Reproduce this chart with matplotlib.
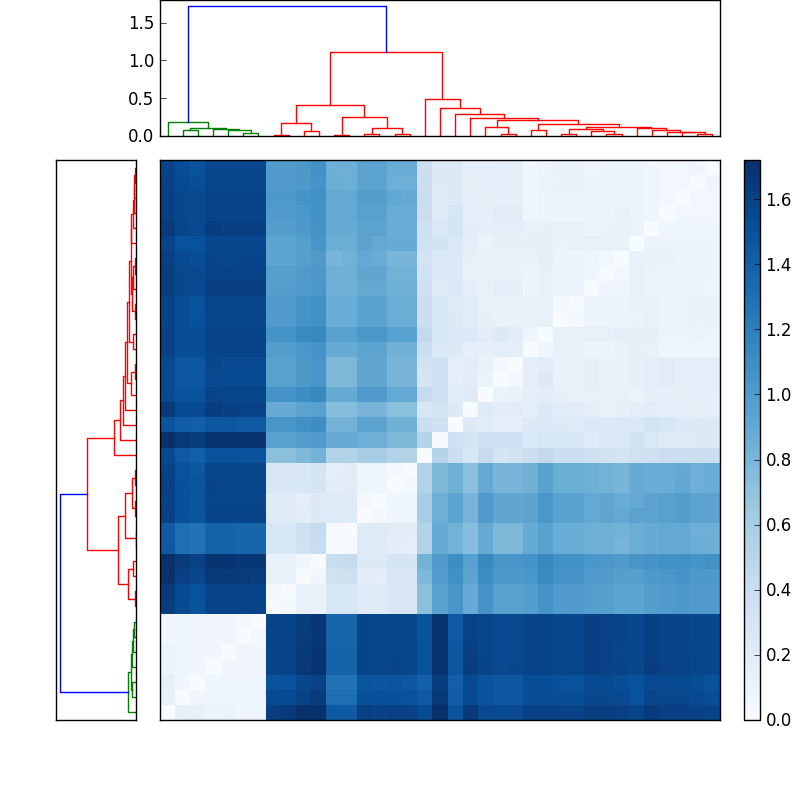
#!/usr/bin/env python3

# Distance matrix with a dendrogram on the top and on the left.

import numpy as np
import matplotlib
matplotlib.use('Agg')
import matplotlib.pyplot as plt
from matplotlib.transforms import ScaledTranslation

plt.style.use('classic')

N_LEAVES = 37

# Merges, in linkage order. Ids below 37 are leaves, 37 and up are earlier merges.
merge_left = [1, 5, 4, 3, 37, 0, 7, 9, 43, 11, 13, 15, 47, 46, 45, 35, 34, 33,
              32, 31, 29, 28, 26, 59, 60, 24, 62, 22, 21, 65, 20, 19, 18, 17,
              51, 42]
merge_right = [2, 6, 38, 39, 40, 41, 8, 10, 44, 12, 14, 16, 48, 49, 50, 36, 52,
               53, 54, 55, 30, 57, 27, 58, 56, 25, 61, 23, 64, 63, 66, 67, 68,
               69, 70, 71]
merge_height = [.08, .035, .075, .09, .105, .19, .015, .065, .17, .01, .025,
                .03, .10, .25, .41, .033, .047, .056, .078, .105, .03, .065,
                .02, .09, .123, .073, .158, .025, .118, .21, .24, .287, .365,
                .49, 1.107, 1.72]
merge_color = ['g'] * 6 + ['r'] * 29 + ['b']

# Lower triangle of the matrix, one list per row, bottom row first.
# The diagonal is zero and the upper part mirrors this.
lower_rows = [
    [],
    [.13],
    [.14, .06],
    [.09, .08, .08],
    [.11, .08, .08, .06],
    [.08, .08, .07, .06, .06],
    [.08, .08, .08, .06, .06, .04],
    [1.63, 1.54, 1.49, 1.58, 1.58, 1.58, 1.58],
    [1.65, 1.54, 1.50, 1.58, 1.58, 1.58, 1.58, .03],
    [1.71, 1.60, 1.56, 1.66, 1.65, 1.64, 1.63, .12, .12],
    [1.71, 1.64, 1.60, 1.68, 1.68, 1.67, 1.67, .13, .13, .06],
    [1.45, 1.31, 1.28, 1.38, 1.38, 1.37, 1.37, .28, .27, .34, .40],
    [1.44, 1.31, 1.28, 1.38, 1.38, 1.37, 1.37, .28, .27, .36, .42, .02],
    [1.61, 1.51, 1.48, 1.58, 1.58, 1.58, 1.58, .21, .21, .18, .23, .21, .21],
    [1.59, 1.51, 1.47, 1.57, 1.57, 1.57, 1.57, .21, .21, .17, .22, .21, .21, .04],
    [1.61, 1.51, 1.48, 1.58, 1.57, 1.57, 1.57, .26, .26, .27, .29, .18, .19, .08, .08],
    [1.59, 1.50, 1.46, 1.57, 1.57, 1.57, 1.57, .26, .26, .26, .29, .17, .18, .07, .07, .04],
    [1.54, 1.45, 1.41, 1.50, 1.50, 1.49, 1.49, .72, .72, .78, .82, .54, .54, .60, .60, .54, .54],
    [1.71, 1.65, 1.63, 1.69, 1.69, 1.68, 1.68, .96, .96, .99, 1.00, .88, .88, .85, .85, .78, .78, .52],
    [1.48, 1.42, 1.41, 1.46, 1.46, 1.45, 1.45, 1.04, 1.04, 1.08, 1.10, .82, .82, .94, .94, .84, .84, .37, .36],
    [1.65, 1.54, 1.54, 1.62, 1.61, 1.60, 1.60, .88, .88, .94, .96, .74, .74, .81, .81, .72, .72, .28, .30, .22],
    [1.55, 1.49, 1.49, 1.58, 1.57, 1.57, 1.57, 1.05, 1.05, 1.10, 1.13, .89, .89, 1.00, 1.00, .90, .90, .42, .36, .20, .21],
    [1.54, 1.46, 1.46, 1.55, 1.54, 1.54, 1.54, .96, .96, 1.02, 1.04, .78, .78, .92, .92, .80, .80, .30, .36, .17, .19, .11],
    [1.55, 1.46, 1.46, 1.56, 1.55, 1.55, 1.55, .96, .96, 1.02, 1.04, .78, .78, .92, .92, .80, .80, .33, .35, .16, .19, .12, .05],
    [1.60, 1.52, 1.52, 1.58, 1.58, 1.58, 1.58, .98, .98, 1.03, 1.05, .88, .88, .93, .93, .83, .83, .38, .25, .22, .15, .15, .17, .17],
    [1.60, 1.52, 1.52, 1.58, 1.58, 1.58, 1.58, 1.06, 1.06, 1.12, 1.14, .95, .95, 1.03, 1.03, .95, .95, .45, .28, .24, .23, .18, .22, .20, .07],
    [1.59, 1.52, 1.50, 1.57, 1.57, 1.57, 1.57, 1.00, 1.00, 1.05, 1.08, .87, .87, .95, .95, .86, .86, .38, .28, .22, .20, .14, .12, .12, .13, .13],
    [1.59, 1.52, 1.49, 1.57, 1.56, 1.56, 1.56, 1.00, 1.00, 1.05, 1.08, .87, .87, .95, .95, .86, .86, .38, .27, .21, .20, .13, .13, .12, .13, .13, .03],
    [1.63, 1.56, 1.54, 1.61, 1.61, 1.61, 1.61, .98, .98, 1.00, 1.03, .84, .84, .90, .90, .84, .84, .36, .21, .24, .17, .13, .15, .15, .10, .13, .10, .10],
    [1.63, 1.56, 1.54, 1.60, 1.60, 1.60, 1.60, .97, .97, 1.00, 1.02, .84, .84, .92, .92, .82, .82, .34, .25, .24, .13, .13, .12, .12, .09, .13, .10, .10, .08],
    [1.61, 1.54, 1.52, 1.58, 1.57, 1.58, 1.58, .93, .93, .97, 1.00, .80, .82, .90, .87, .80, .80, .32, .25, .24, .14, .13, .12, .12, .12, .16, .10, .10, .08, .05],
    [1.58, 1.50, 1.50, 1.56, 1.56, 1.56, 1.56, .93, .93, .97, 1.04, .86, .86, .94, .90, .88, .88, .34, .33, .24, .17, .11, .14, .14, .14, .14, .11, .13, .13, .13, .13],
    [1.64, 1.57, 1.55, 1.62, 1.61, 1.61, 1.61, .98, .98, 1.02, 1.05, .88, .88, .94, .94, .87, .87, .36, .25, .30, .18, .16, .17, .17, .13, .14, .13, .13, .09, .11, .12, .11],
    [1.61, 1.56, 1.54, 1.59, 1.58, 1.58, 1.58, 1.00, 1.00, 1.03, 1.07, .90, .90, .96, .96, .87, .87, .38, .21, .28, .17, .16, .19, .19, .07, .09, .10, .10, .10, .10, .12, .10, .08],
    [1.61, 1.56, 1.54, 1.59, 1.58, 1.58, 1.58, 1.02, 1.02, 1.05, 1.08, .90, .90, .98, .98, .91, .90, .38, .21, .22, .15, .14, .15, .15, .07, .10, .11, .11, .09, .09, .09, .09, .07, .05],
    [1.60, 1.54, 1.52, 1.57, 1.57, 1.56, 1.56, 1.00, 1.00, 1.02, 1.06, .86, .85, .94, .94, .85, .85, .37, .22, .22, .14, .16, .17, .17, .08, .11, .12, .12, .10, .09, .09, .09, .08, .05, .05],
    [1.58, 1.52, 1.49, 1.56, 1.56, 1.56, 1.56, 1.00, 1.00, 1.02, 1.07, .85, .85, .94, .94, .87, .87, .37, .22, .22, .15, .15, .17, .17, .07, .10, .12, .12, .07, .09, .09, .09, .07, .05, .05, .07],
]

tick_top = [0.0, 0.5, 1.0, 1.5]
tick_bar = [0.0, 0.2, 0.4, 0.6, 0.8, 1.0, 1.2, 1.4, 1.6]


# Works out where each merge sits along the leaves. Leaf i is centred at 10*i+5.
def merge_segments():
    pos = {i: (10.0*i + 5.0, 0.0) for i in range(N_LEAVES)}
    segs = []
    for k in range(len(merge_height)):
        xa, ya = pos[merge_left[k]]
        xb, yb = pos[merge_right[k]]
        h = merge_height[k]
        segs.append(([xa, xa, xb, xb], [ya, h, h, yb], merge_color[k]))
        pos[N_LEAVES + k] = ((xa + xb)/2.0, h)
    return segs


dist = np.zeros((N_LEAVES, N_LEAVES))
for r, row in enumerate(lower_rows):
    dist[r, :r] = row
    dist[:r, r] = row

segs = merge_segments()
span = 10.0*N_LEAVES

fig = plt.figure(figsize=(8, 8), dpi=100, facecolor='white')

ax_left = fig.add_axes([0.07, 0.1, 0.1, 0.7])
for xs, ys, col in segs:
    ax_left.plot(ys, xs, color=col, lw=1.0)
ax_left.set_xlim(1.8, 0)
ax_left.set_ylim(0, span)
ax_left.set_xticks([])
ax_left.set_yticks([])

ax_top = fig.add_axes([0.2, 0.83, 0.7, 0.17])
for xs, ys, col in segs:
    ax_top.plot(xs, ys, color=col, lw=1.0)
ax_top.set_xlim(0, span)
ax_top.set_ylim(0, 1.8)
ax_top.set_xticks([])
ax_top.set_yticks(tick_top)
ax_top.yaxis.tick_left()

ax_map = fig.add_axes([0.2, 0.1, 0.7, 0.7])
im = ax_map.imshow(dist, origin='lower', aspect='auto', cmap='Blues',
                   interpolation='nearest', vmin=0, vmax=1.72)
ax_map.set_xticks([])
ax_map.set_yticks([])

cax = fig.add_axes([0.93, 0.1, 0.02, 0.7])
cbar = fig.colorbar(im, cax=cax)
cbar.set_ticks(tick_bar)

# Tick labels sit a little lower than the new text centring puts them.
nudge = ScaledTranslation(0, -0.015, fig.dpi_scale_trans)
for label in ax_top.get_yticklabels() + cax.get_yticklabels():
    label.set_transform(label.get_transform() + nudge)

fig.savefig('out.png', dpi=100, facecolor='white')
